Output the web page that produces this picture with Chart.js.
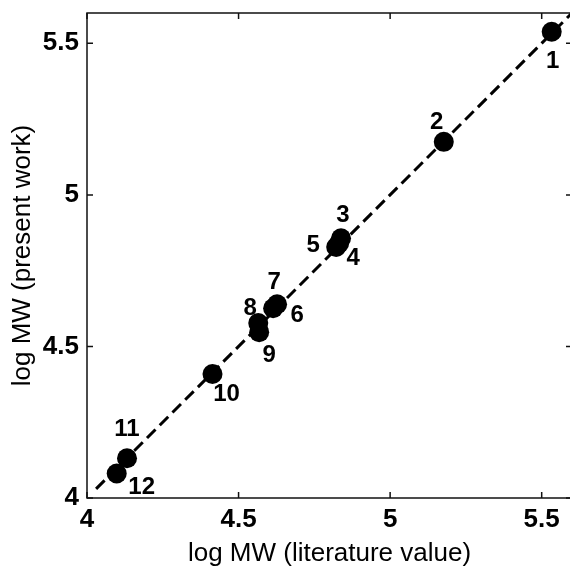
<!DOCTYPE html>
<html>
<head>
<meta charset="utf-8">
<script src="https://cdn.jsdelivr.net/npm/chart.js@4/dist/chart.umd.min.js"></script>
<style>
  html, body { margin: 0; padding: 0; background: #fff; overflow: hidden; }
  /* the original figure is cropped a couple of pixels inside its right border */
  #wrap { position: relative; width: 572px; height: 566px; }
</style>
</head>
<body>
<div id="wrap"><canvas id="mwChart"></canvas></div>
<script>
// sample numbers and values
const sampleIds = ["1", "2", "3", "4", "5", "6", "7", "8", "9", "10", "11", "12"];
const literatureMW = [5.533, 5.177, 4.838, 4.832, 4.822, 4.614, 4.627, 4.565, 4.568, 4.414, 4.132, 4.098];
const presentMW = [5.538, 5.175, 4.857, 4.841, 4.828, 4.626, 4.639, 4.577, 4.547, 4.409, 4.131, 4.081];

// y = x reference line
const refLineX = [4.03, 5.6];
const refLineY = [4.03, 5.6];

const tickValues = [4, 4.5, 5, 5.5];

// where each number sits relative to its marker (px)
const labelOffsets = [
  [1, 30], [-7, -19], [2, -23], [14, 15], [-23, -2], [24, 7],
  [-3, -22], [-8, -15], [10, 23], [14, 20], [0, -29], [25, 14],
];

const FONT = "'Liberation Sans', Arial, Helvetica, sans-serif";

const framePlugin = {
  id: "frame",
  afterDatasetsDraw(chart) {
    const { ctx, chartArea: a, scales } = chart;
    ctx.save();
    ctx.strokeStyle = "#111";
    ctx.lineWidth = 1.5;
    ctx.strokeRect(a.left, a.top, a.right - a.left, a.bottom - a.top);
    ctx.beginPath();
    tickValues.forEach((v) => {
      const px = scales.x.getPixelForValue(v);
      ctx.moveTo(px, a.bottom); ctx.lineTo(px, a.bottom - 6);
      ctx.moveTo(px, a.top); ctx.lineTo(px, a.top + 6);
      const py = scales.y.getPixelForValue(v);
      ctx.moveTo(a.left, py); ctx.lineTo(a.left + 6, py);
      ctx.moveTo(a.right, py); ctx.lineTo(a.right - 6, py);
    });
    ctx.stroke();

    // sample numbers
    const meta = chart.getDatasetMeta(0);
    ctx.fillStyle = "#000";
    ctx.font = "bold 24px " + FONT;
    ctx.textAlign = "center";
    ctx.textBaseline = "middle";
    meta.data.forEach((pt, i) => {
      const [dx, dy] = labelOffsets[i];
      ctx.fillText(sampleIds[i], pt.x + dx, pt.y + dy);
    });
    ctx.restore();
  },
};

const points = literatureMW.map((v, i) => ({ x: v, y: presentMW[i] }));
const refLine = refLineX.map((v, i) => ({ x: v, y: refLineY[i] }));

new Chart(document.getElementById("mwChart"), {
  type: "scatter",
  data: {
    datasets: [
      {
        label: "samples",
        data: points,
        order: 0,
        backgroundColor: "#000",
        borderColor: "#000",
        borderWidth: 0,
        pointRadius: 10,
        pointHoverRadius: 10,
        clip: false,
      },
      {
        label: "y = x",
        data: refLine,
        order: 1,
        showLine: true,
        borderColor: "#000",
        borderWidth: 3,
        borderDash: [12, 6],
        pointRadius: 0,
        fill: false,
      },
    ],
  },
  options: {
    responsive: true,
    maintainAspectRatio: false,
    animation: false,
    layout: { autoPadding: false, padding: { top: 13, right: 0, left: 0, bottom: 0 } },
    plugins: {
      legend: { display: false },
      tooltip: { enabled: false },
    },
    scales: {
      x: {
        type: "linear",
        min: 4,
        max: 5.6,
        grid: { display: false, drawTicks: false },
        border: { display: false },
        afterBuildTicks: (s) => { s.ticks = tickValues.map((v) => ({ value: v })); },
        afterFit: (s) => {
          s.height = 68;
          s.paddingLeft = 0;
          s.paddingRight = 0;
        },
        ticks: {
          padding: 6,
          color: "#000",
          font: { family: FONT, size: 26, weight: "bold" },
          callback: (v) => String(v),
        },
        title: {
          display: true,
          text: "log MW (literature value)",
          color: "#000",
          font: { family: FONT, size: 26, lineHeight: 1 },
          padding: { top: 0, bottom: -1 },
        },
      },
      y: {
        type: "linear",
        min: 4,
        max: 5.6,
        grid: { display: false, drawTicks: false },
        border: { display: false },
        afterBuildTicks: (s) => { s.ticks = tickValues.map((v) => ({ value: v })); },
        afterFit: (s) => {
          s.width = 87;
          s.paddingTop = 0;
          s.paddingBottom = 0;
        },
        ticks: {
          padding: 8,
          color: "#000",
          font: { family: FONT, size: 26, weight: "bold" },
          callback: (v) => String(v),
        },
        title: {
          display: true,
          text: "log MW (present work)",
          color: "#000",
          font: { family: FONT, size: 26, lineHeight: 1 },
          padding: { top: 10, bottom: 0 },
        },
      },
    },
  },
  plugins: [framePlugin],
});
</script>
</body>
</html>
